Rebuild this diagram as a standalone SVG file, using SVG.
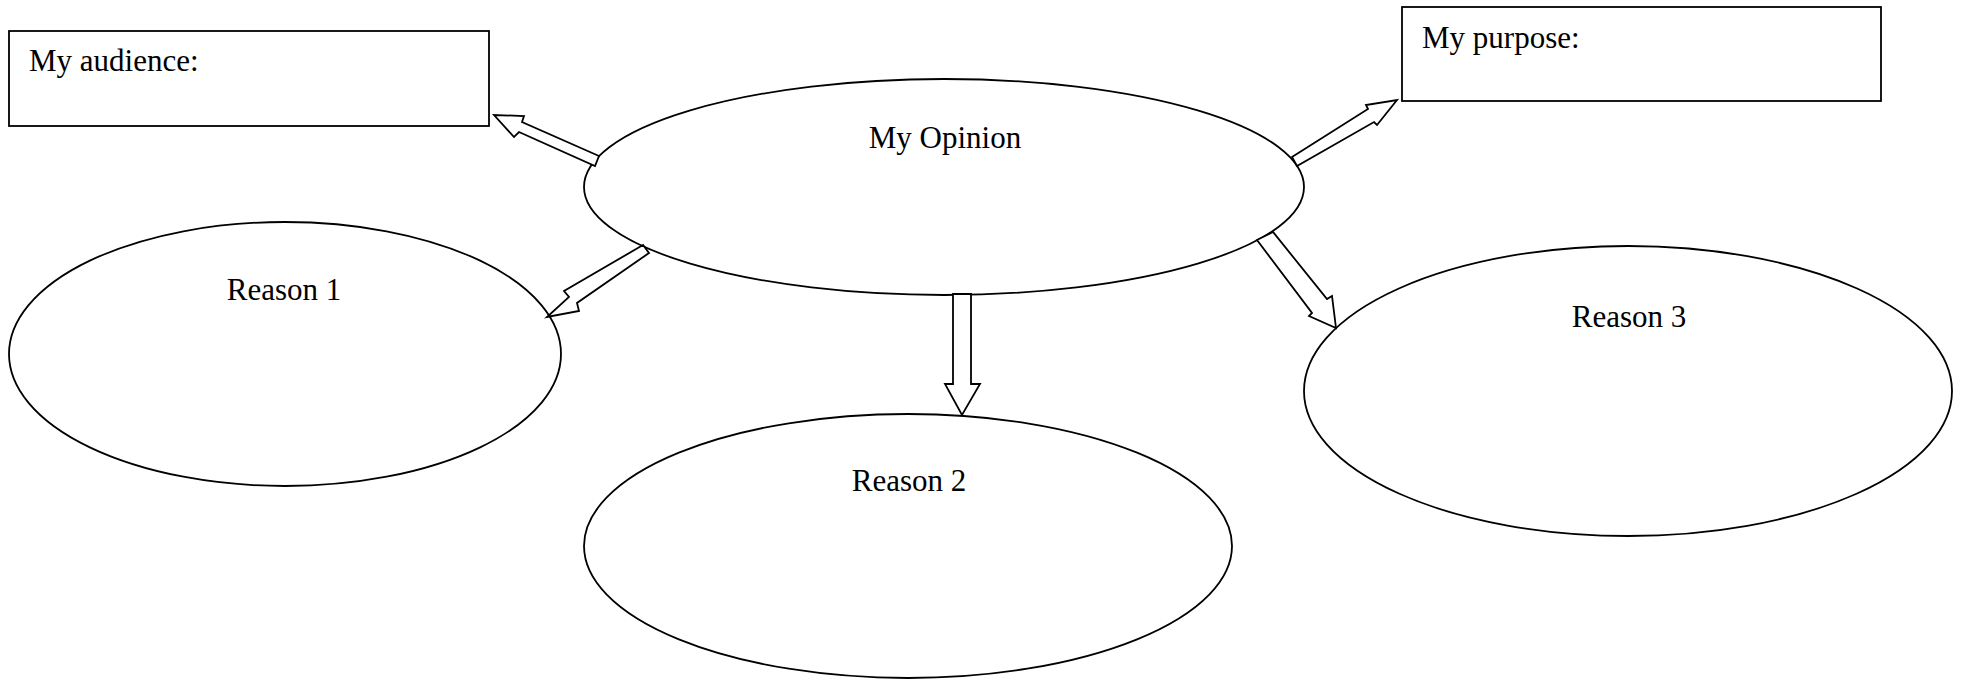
<svg xmlns="http://www.w3.org/2000/svg" width="1961" height="679" viewBox="0 0 1961 679">
<style>
.shape{fill:#fff;stroke:#000;stroke-width:1.8}
.arrow{fill:#fff;stroke:#000;stroke-width:1.8;stroke-linejoin:miter}
text{font-family:"Liberation Serif","Times New Roman",serif;font-size:31px;fill:#000}
.c{text-anchor:middle}
</style>
<rect width="1961" height="679" fill="#fff"/>
<g id="audience">
<rect class="shape" x="9" y="31" width="480" height="95"/>
<text x="29" y="71">My audience:</text>
</g>
<g id="purpose">
<rect class="shape" x="1402" y="7" width="479" height="94"/>
<text x="1422" y="48">My purpose:</text>
</g>
<g id="opinion">
<ellipse class="shape" cx="944" cy="187" rx="360" ry="108"/>
<text class="c" x="945" y="148">My Opinion</text>
</g>
<g id="reason1">
<ellipse class="shape" cx="285" cy="354" rx="276" ry="132"/>
<text class="c" x="284" y="300">Reason 1</text>
</g>
<g id="reason2">
<ellipse class="shape" cx="908" cy="546" rx="324" ry="132"/>
<text class="c" x="909" y="491">Reason 2</text>
</g>
<g id="reason3">
<ellipse class="shape" cx="1628" cy="391" rx="324" ry="145"/>
<text class="c" x="1629" y="327">Reason 3</text>
</g>
<g id="connectors">
<polygon class="arrow" points="599,156 522,122 524,116 494,115 514,137 519,132 595,166"/>
<polygon class="arrow" points="1292,157 1368,109 1366,105 1397,100 1377,125 1374,122 1297,166"/>
<polygon class="arrow" points="643,245 564,291 569,297 547,317 579,311 577,303 649,253"/>
<polygon class="arrow" points="953,294 953,384 945,384 962,415 980,384 971,384 971,294"/>
<polygon class="arrow" points="1257,240 1312,313 1309,316 1336,328 1332,296 1327,299 1273,232"/>
</g>
</svg>
